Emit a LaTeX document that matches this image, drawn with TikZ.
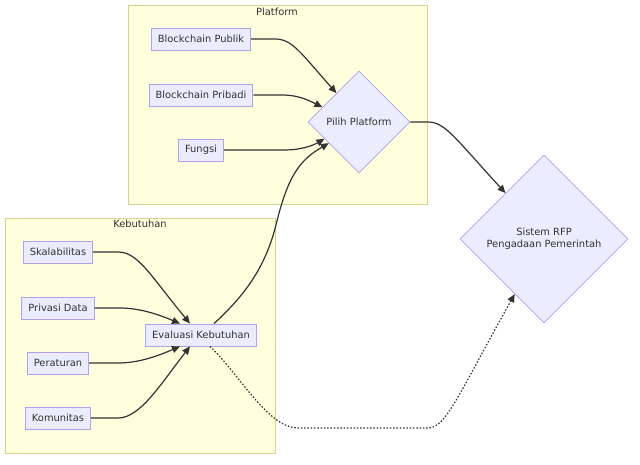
\documentclass[tikz,border=0pt]{standalone}
\usepackage{fontspec}
\setmainfont{DejaVu Sans}
\usetikzlibrary{shapes.geometric,arrows.meta}
\definecolor{nfill}{HTML}{ECECFF}
\definecolor{nbord}{HTML}{B4A0EC}
\definecolor{cfill}{HTML}{FFFFDE}
\definecolor{cbord}{HTML}{D4D48A}
\definecolor{ink}{HTML}{333333}
\tikzset{
  box/.style={draw=nbord, fill=nfill, line width=0.8pt, inner xsep=6.5pt, inner ysep=0pt, minimum height=22pt, font=\fontsize{9.9}{12}\selectfont, text=ink},
  dia/.style={draw=nbord, fill=nfill, line width=0.8pt, shape=diamond, aspect=1, inner sep=0pt, font=\fontsize{9.9}{12}\selectfont, text=ink, align=center},
  clus/.style={draw=cbord, fill=cfill, line width=1pt},
  clab/.style={font=\fontsize{9.9}{12}\selectfont, text=ink},
  edge/.style={draw=ink, line width=1.2pt, -{Triangle[length=8pt,width=7pt]}},
  dotedge/.style={draw=ink, line width=1.2pt, dash pattern=on 1.5pt off 1.8pt, -{Triangle[length=8pt,width=7pt]}}
}
\begin{document}
\begin{tikzpicture}[x=1pt,y=-1pt]
\useasboundingbox (0,0) rectangle (640,464);
% clusters
\path[clus] (128,5) rectangle (427,204);
\node[clab] (lplat) at (277,12) {Platform};
\path[clus] (5,218) rectangle (275,453);
\node[clab] (lkeb) at (140,224) {Kebutuhan};
% nodes
\node[box] (bp) at (201,39) {Blockchain Publik};
\node[box] (bv) at (201,95) {Blockchain Pribadi};
\node[box] (fu) at (201,150) {Fungsi};
\node[dia, minimum size=102pt] (pp) at (359,122) {Pilih Platform};
\node[dia, minimum size=168pt] (ss) at (544,239) {Sistem RFP\\Pengadaan Pemerintah};
\node[box] (sk) at (58,252) {Skalabilitas};
\node[box] (pd) at (58,308) {Privasi Data};
\node[box] (pe) at (58,363) {Peraturan};
\node[box] (ko) at (58,418) {Komunitas};
\node[box] (ev) at (201,335) {Evaluasi Kebutuhan};
% edges
\draw[edge] (bp.east) -- (275,39) .. controls (292,39) and (300,52) .. (pp.128);
\draw[edge] (bv.east) -- (282,95) .. controls (298,95) and (308,100) .. (pp.158);
\draw[edge] (fu.east) -- (285,150) .. controls (300,150) and (312,146) .. (pp.206);
\draw[edge] ([xshift=13pt]ev.north) .. controls (245,295) and (265,268) .. (276,225) .. controls (288,175) and (300,160) .. (pp.215);
\draw[edge] (pp.east) -- (428,122) .. controls (445,122) and (455,138) .. (ss.130);
\draw[edge] (sk.east) -- (118,252) .. controls (138,252) and (150,275) .. ([xshift=-11pt]ev.north);
\draw[edge] (pd.east) -- (120,308) .. controls (140,308) and (160,315) .. ([xshift=-21pt]ev.north);
\draw[edge] (pe.east) -- (118,363) .. controls (140,363) and (160,355) .. ([xshift=-21pt]ev.south);
\draw[edge] (ko.east) -- (118,418) .. controls (140,418) and (160,385) .. ([xshift=-11pt]ev.south);
\draw[dotedge] ([xshift=9pt]ev.south) .. controls (240,375) and (268,428) .. (298,428) -- (428,428) .. controls (446,428) and (458,395) .. (ss.242);
\end{tikzpicture}
\end{document}
